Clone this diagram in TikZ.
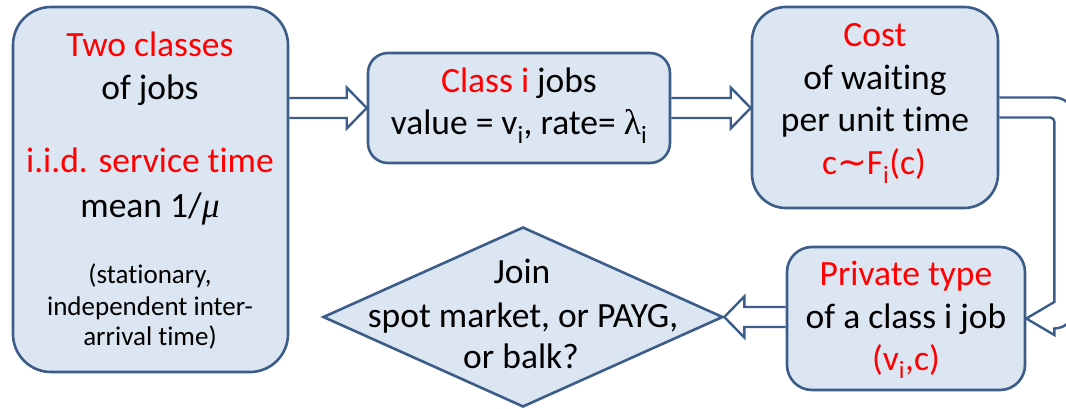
\documentclass[tikz,border=0pt]{standalone}
\usepackage{fontspec}
\setmainfont{Carlito}[Ligatures=NoCommon]
\newfontfamily\grk{Liberation Serif}
\newfontfamily\symb{DejaVu Sans}
\usetikzlibrary{shapes.geometric,calc}
\definecolor{edge}{RGB}{60,92,138}
\definecolor{pane}{RGB}{220,230,242}
\definecolor{hot}{RGB}{255,0,0}
\pgfdeclarelayer{bg}
\pgfsetlayers{bg,main}
\tikzset{
  panel/.style={draw=edge, fill=pane, line width=2.6pt, inner sep=0pt},
  big/.style={anchor=base, inner sep=0pt, font=\fontsize{35.5}{42}\selectfont},
  small/.style={anchor=base, inner sep=0pt, font=\fontsize{27}{31}\selectfont},
  red/.style={text=hot},
  shaft/.style={draw=edge, fill=white, line width=2.4pt, line join=miter},
}
% straight block arrow: #1 start, #2 back of the head, #3 tip (y taken from the tip)
\newcommand\blockarrow[3]{%
  \path[shaft] let \p1=#1, \p2=#2, \p3=#3 in
    (\x1,\y3+10pt) -- (\x2,\y3+10pt) -- (\x2,\y3+20.5pt) -- (\x3,\y3)
    -- (\x2,\y3-20.5pt) -- (\x2,\y3-10pt) -- (\x1,\y3-10pt);}
\begin{document}
\begin{tikzpicture}[x=1pt,y=-1pt]
\useasboundingbox (0,0) rectangle (1066,409);

% boxes
\node[panel, minimum width=275pt, minimum height=365pt, rounded corners=38pt] (src) at (150.5,189.5) {};
\node[panel, minimum width=302pt, minimum height=110pt, rounded corners=20pt] (cls) at (519,108) {};
\node[panel, minimum width=246pt, minimum height=201pt, rounded corners=34pt] (cost) at (875,107.5) {};
\node[panel, minimum width=238pt, minimum height=143pt, rounded corners=25pt] (prv) at (906,318.5) {};
\node[panel, diamond, minimum width=400pt, minimum height=180pt] (dia) at (523,317) {};

% connectors
\begin{pgfonlayer}{bg}
\blockarrow{(src.east |- cls.west)}{($(cls.west)+(-20,0)$)}{(cls.west)}
\blockarrow{(cls.east)}{($(cost.west |- cls.east)+(-20,0)$)}{(cost.west |- cls.east)}
\blockarrow{(prv.west |- dia.east)}{($(dia.east)+(20,0)$)}{(dia.east)}
\path[shaft] let \p1=(cost.east), \p2=(prv.east) in
  (\x1,\y1+10pt) -- (\x2+28pt,\y1+10pt)
  .. controls (\x2+39pt,\y1+10pt) and (\x2+48pt,\y1+1pt) .. (\x2+48pt,\y1-10pt)
  -- (\x2+48pt,\y2+10pt)
  .. controls (\x2+48pt,\y2-1pt) and (\x2+39pt,\y2-10pt) .. (\x2+28pt,\y2-10pt)
  -- (\x2+28pt,\y2-16.5pt) -- (\x2,\y2) -- (\x2+28pt,\y2+16.5pt)
  -- (\x2+28pt,\y1-14pt)
  .. controls (\x2+28pt,\y1-12pt) and (\x2+26pt,\y1-10pt) .. (\x2+24pt,\y1-10pt)
  -- (\x1,\y1-10pt);
\end{pgfonlayer}

% texts of the first box
\node[big, red] (s1) at (150,57) {Two classes};
\node[big] (s2) at (150,100) {of jobs};
\node[big, red] (s3) at (150,173) {i.i.d. service time};
\node[big] (s4) at (150,218) {mean 1/{\grk\itshape μ}};
\node[small] (s5) at (150,283) {(stationary,};
\node[small] (s6) at (150,315) {independent inter-};
\node[small] (s7) at (150,345) {arrival time)};

% class box
\node[big] (c1) at (519,93) {\textcolor{hot}{Class i} jobs};
\node[big] (c2) at (519,135) {value = v\textsubscript{i}, rate= {\grk λ}\textsubscript{i}};

% cost box
\node[big, red] (w1) at (875,47) {Cost};
\node[big] (w2) at (875,90) {of waiting};
\node[big] (w3) at (875,132) {per unit time};
\node[big, red] (w4) at (874,175) {c{\symb ∼}F\textsubscript{i}(c)};

% private type box
\node[big, red] (p1) at (906,285) {Private type};
\node[big] (p2) at (906,328) {of a class i job};
\node[big, red] (p3) at (906,370) {(v\textsubscript{i},c)};

% decision
\node[big] (d1) at (522,283) {Join};
\node[big] (d2) at (523,327) {spot market, or PAYG,};
\node[big] (d3) at (521,368) {or balk?};
\end{tikzpicture}
\end{document}
